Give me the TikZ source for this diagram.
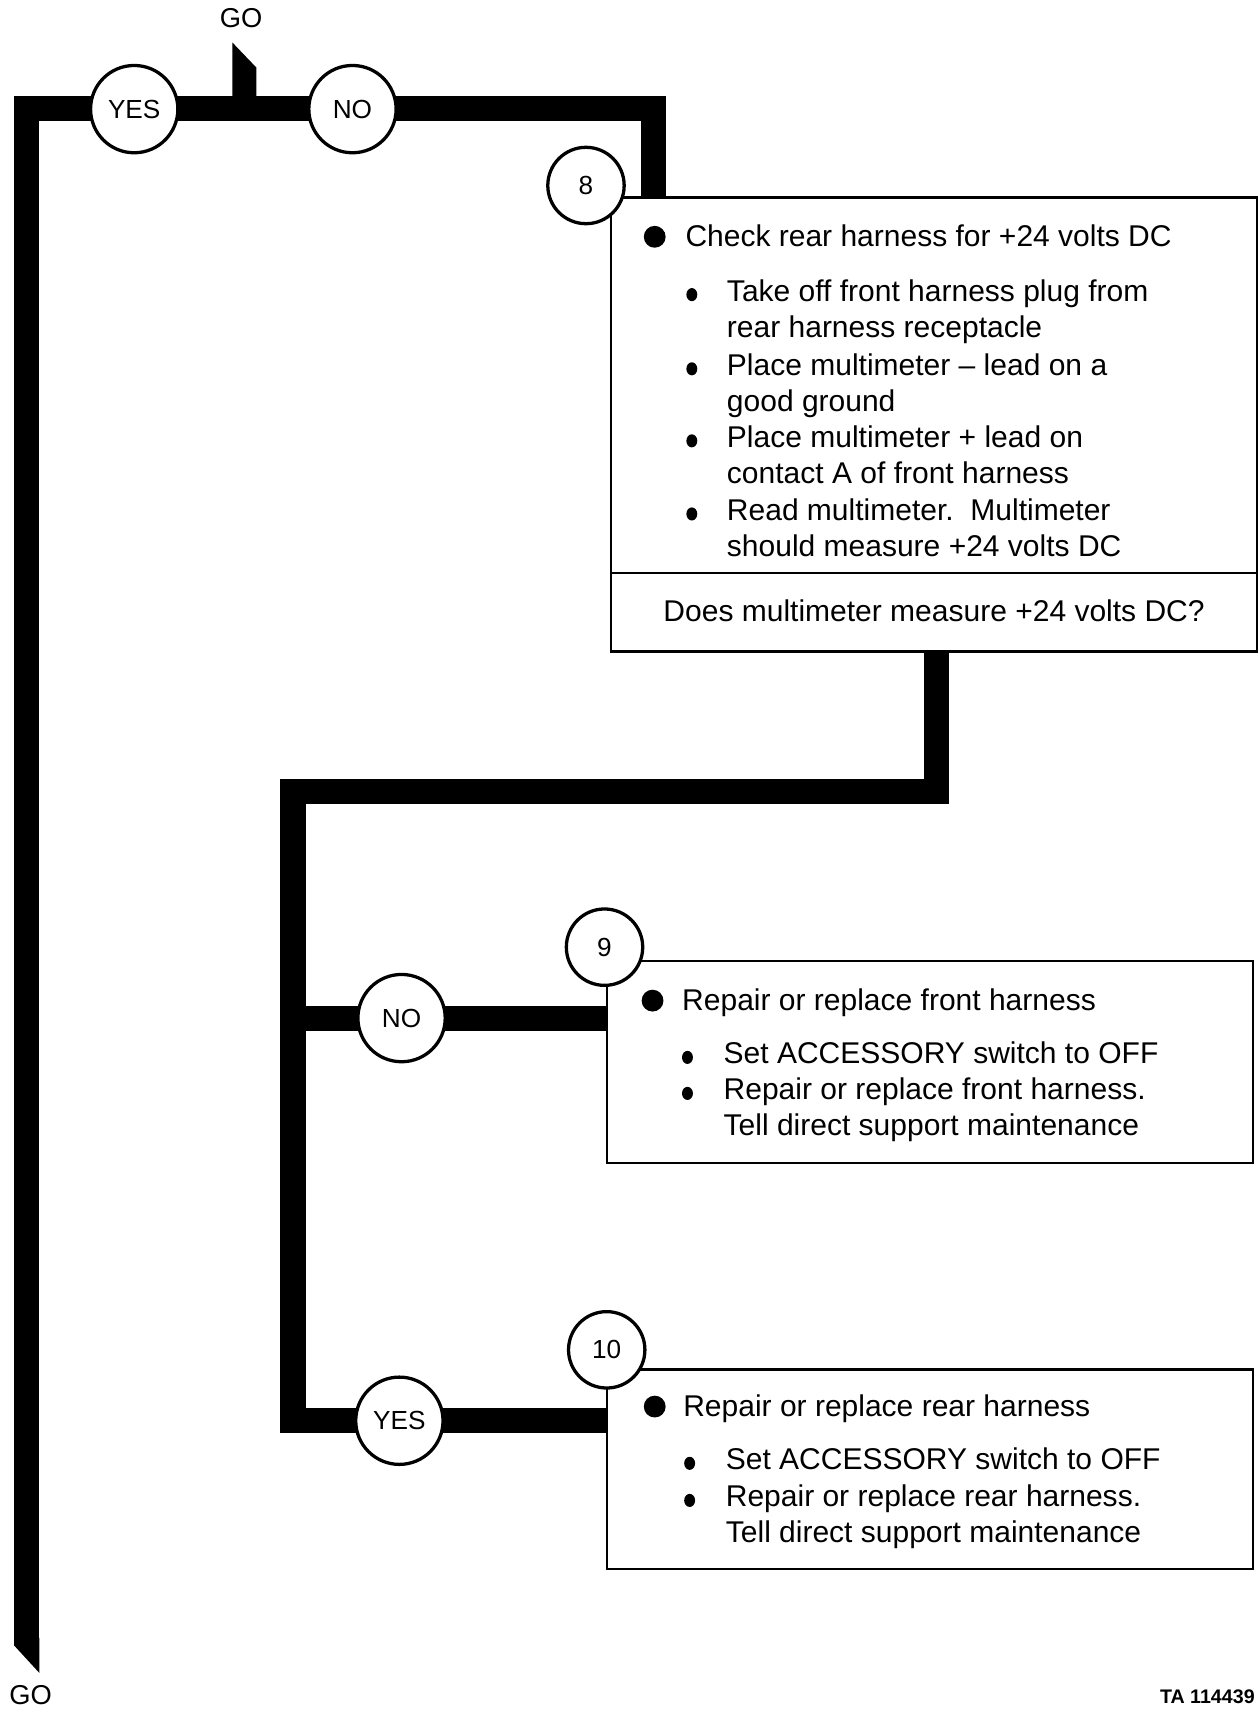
\documentclass[tikz,border=0pt]{standalone}
\usepackage{fontspec}
\setmainfont{Liberation Sans}
\begin{document}
\begin{tikzpicture}[x=1pt,y=-1pt,
  bar/.style={line width=23pt, line join=miter},
  ans/.style={circle, draw, line width=3pt, fill=white, minimum size=80pt, inner sep=0pt, font=\fontsize{24}{24}\selectfont},
  num/.style={circle, draw, line width=3pt, fill=white, minimum size=70pt, inner sep=0pt, font=\fontsize{24}{24}\selectfont},
  box/.style={draw, line width=2pt, inner sep=0pt, fill=white},
  txt/.style={anchor=base west, inner sep=0pt, font=\fontsize{27.5}{33}\selectfont},
  lbl/.style={inner sep=0pt, font=\fontsize{25}{25}\selectfont}]
\useasboundingbox (0,0) rectangle (1154,1568);

% boxes
\node[box, minimum width=592pt, minimum height=416pt] (box8) at (856,389) {};
\node[box, minimum width=592pt, minimum height=185pt] (box9) at (852,973.5) {};
\node[box, minimum width=592pt, minimum height=183pt] (box10) at (852,1346.5) {};
\draw[line width=2pt] (box8.west |- 0,525) -- (box8.east |- 0,525);

% top connector
\coordinate (b1) at (24.5,1502);
\coordinate (k1) at (24.5,99.5);
\coordinate (k2) at (599,99.5);
\draw[bar] (b1) -- (k1) -- (k2) -- (k2 |- box8.north);
\fill (13,1501) -- (36,1501) -- (36,1533) -- (13,1508) -- cycle;
\fill (213,90) -- (213,39) -- (235,62) -- (235,90) -- cycle;

% middle connector
\coordinate (m1) at (858,725.5);
\coordinate (m2) at (268.5,725.5);
\coordinate (m3) at (268.5,1301.5);
\coordinate (m4) at (268.5,933.5);
\draw[bar] (m1 |- box8.south) -- (m1) -- (m2) -- (m3) -- (m3 -| box10.west);
\draw[bar] (m4) -- (m4 -| box9.west);

% labels GO
\node[lbl] (go1) at (221,17) {GO};
\node[lbl] (go2) at (28,1553) {GO};
\node[anchor=east, inner sep=0pt, font=\bfseries\fontsize{18}{18}\selectfont] (ta) at (1150,1555) {TA 114439};

% answer circles
\node[ans] (yes1) at (123,100) {YES};
\node[ans] (no1) at (323,100) {NO};
\node[ans] (no2) at (368,933) {NO};
\node[ans] (yes2) at (366,1302) {YES};

% step numbers
\node[num] (c8) at (537,170) {8};
\node[num] (c9) at (554,868) {9};
\node[num] (c10) at (556,1237) {10};

% box 8 text
\fill (600,217) circle (10pt);
\node[txt] (t8a) at (628,226) {Check rear harness for +24 volts DC};
\fill (634,270) ellipse (5pt and 6pt);
\node[txt] (t8b) at (666,276) {Take off front harness plug from};
\node[txt] (t8c) at (666,309) {rear harness receptacle};
\fill (634,338) ellipse (5pt and 6pt);
\node[txt] (t8d) at (666,344) {Place multimeter – lead on a};
\node[txt] (t8e) at (666,377) {good ground};
\fill (634,404) ellipse (5pt and 6pt);
\node[txt] (t8f) at (666,410) {Place multimeter + lead on};
\node[txt] (t8g) at (666,443) {contact A of front harness};
\fill (634,471) ellipse (5pt and 6pt);
\node[txt] (t8h) at (666,477) {Read multimeter.\ \ Multimeter};
\node[txt] (t8i) at (666,510) {should measure +24 volts DC};
\node[txt, anchor=base] (q8) at (856,570) {Does multimeter measure +24 volts DC?};

% box 9 text
\fill (598,917) circle (10pt);
\node[txt] (t9a) at (625,926) {Repair or replace front harness};
\fill (630,969) ellipse (5pt and 6pt);
\node[txt] (t9b) at (663,975) {Set ACCESSORY switch to OFF};
\fill (630,1002) ellipse (5pt and 6pt);
\node[txt] (t9c) at (663,1008) {Repair or replace front harness.};
\node[txt] (t9d) at (663,1041) {Tell direct support maintenance};

% box 10 text
\fill (600,1289) circle (10pt);
\node[txt] (t10a) at (626,1298) {Repair or replace rear harness};
\fill (632,1341) ellipse (5pt and 6pt);
\node[txt] (t10b) at (665,1347) {Set ACCESSORY switch to OFF};
\fill (632,1375) ellipse (5pt and 6pt);
\node[txt] (t10c) at (665,1381) {Repair or replace rear harness.};
\node[txt] (t10d) at (665,1414) {Tell direct support maintenance};
\end{tikzpicture}
\end{document}
